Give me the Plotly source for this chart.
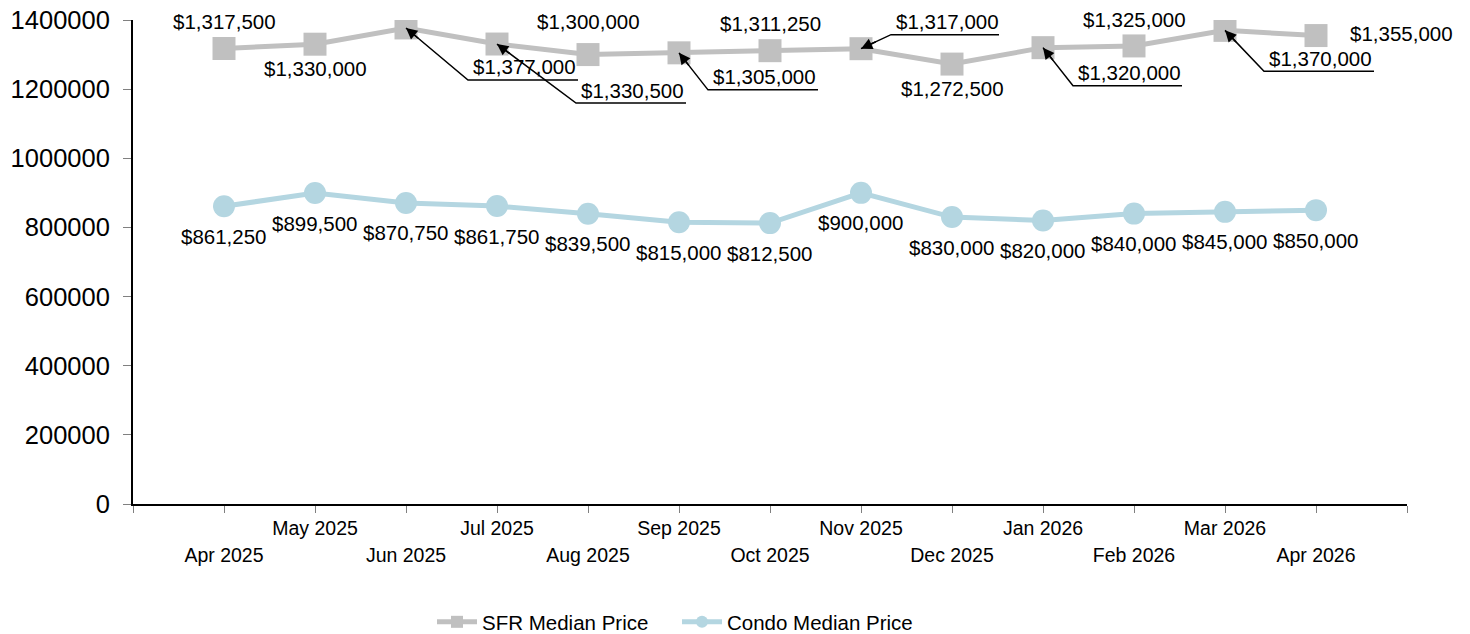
import math
import plotly.graph_objects as go

# ---------------- data ----------------
months = ["Apr 2025", "May 2025", "Jun 2025", "Jul 2025", "Aug 2025", "Sep 2025",
          "Oct 2025", "Nov 2025", "Dec 2025", "Jan 2026", "Feb 2026", "Mar 2026", "Apr 2026"]
sfr_price = [1317500, 1330000, 1377000, 1330500, 1300000, 1305000, 1311250,
             1317000, 1272500, 1320000, 1325000, 1370000, 1355000]
condo_price = [861250, 899500, 870750, 861750, 839500, 815000, 812500,
               900000, 830000, 820000, 840000, 845000, 850000]
y_ticks = [0, 200000, 400000, 600000, 800000, 1000000, 1200000, 1400000]

# ---------------- layout constants ----------------
# the page body has an 8px margin, so the figure is offset by 8px
W, H = 1462, 626
ML, MR, MT, MB = 125, 63, 12, 130
X_RANGE = [-1, len(months)]
Y_RANGE = [0, 1400000]
PLOT_W = W - ML - MR
PLOT_H = H - MT - MB
PX_PER_X = PLOT_W / (X_RANGE[1] - X_RANGE[0])
PX_PER_Y = PLOT_H / (Y_RANGE[1] - Y_RANGE[0])

FONT = "Liberation Sans, Arial, sans-serif"
SFR_COLOR = "#c0c0c0"
CONDO_COLOR = "#b4d6e1"

x = list(range(len(months)))

fig = go.Figure()
fig.add_trace(go.Scatter(
    x=x, y=sfr_price, mode="lines+markers", name="SFR Median Price",
    line=dict(color=SFR_COLOR, width=5),
    marker=dict(symbol="square", size=23, color=SFR_COLOR),
    hoverinfo="skip"))
fig.add_trace(go.Scatter(
    x=x, y=condo_price, mode="lines+markers", name="Condo Median Price",
    line=dict(color=CONDO_COLOR, width=5),
    marker=dict(symbol="circle", size=22, color=CONDO_COLOR),
    hoverinfo="skip"))
# invisible trace so the second (staggered-label) x axis is drawn
fig.add_trace(go.Scatter(x=[None], y=[None], xaxis="x2", yaxis="y",
                         showlegend=False, hoverinfo="skip", mode="markers"))


def money(v):
    return "${:,}".format(v)


annotations = []
shapes = []
LABEL_FONT = dict(family=FONT, size=20.5, color="black")

# plain SFR labels: index -> (xshift, yshift) in px
sfr_plain = {0: (0, 27), 1: (0, -24), 4: (0, 33), 6: (0, 27),
             8: (0, -24), 10: (0, 26), 12: (85, 2)}
# SFR labels with leader + underline: index -> (dx, dy screen px to underline start, underline length)
sfr_arrow = {2: (62, 52, 110), 3: (79, 59, 110), 5: (29, 37, 110),
             7: (30, -14, 108), 9: (30, 38, 109), 11: (39, 41, 110)}

for i, v in enumerate(sfr_price):
    if i in sfr_plain:
        xs, ys = sfr_plain[i]
        annotations.append(dict(x=x[i], y=v, text=money(v), showarrow=False,
                                xshift=xs, yshift=ys, font=LABEL_FONT,
                                xanchor="center", yanchor="middle"))
    else:
        dx, dy, ln = sfr_arrow[i]
        x0 = x[i] + dx / PX_PER_X
        y0 = v - dy / PX_PER_Y
        x1 = x[i] + (dx + ln) / PX_PER_X
        shapes.append(dict(type="path", xref="x", yref="y",
                           path=f"M {x[i]},{v} L {x0},{y0} L {x1},{y0}",
                           line=dict(color="black", width=1.5), layer="above"))
        s = 18 / math.hypot(dx, dy)
        annotations.append(dict(x=x[i], y=v, text="", showarrow=True,
                                ax=dx * s, ay=dy * s, axref="pixel", ayref="pixel",
                                arrowhead=2, arrowsize=1.5, arrowwidth=1.5,
                                arrowcolor="black", standoff=0))
        annotations.append(dict(x=x[i], y=v, text=money(v), showarrow=False,
                                xshift=dx + 3, yshift=-(dy - 13), font=LABEL_FONT,
                                xanchor="left", yanchor="middle"))

for i, v in enumerate(condo_price):
    annotations.append(dict(x=x[i], y=v, text=money(v), showarrow=False,
                            xshift=0, yshift=-30, font=LABEL_FONT,
                            xanchor="center", yanchor="middle"))

all_ticks = list(range(X_RANGE[0], X_RANGE[1] + 1))
upper_text = [months[t] if (0 <= t < len(months) and t % 2 == 1) else "" for t in all_ticks]
lower_vals = [t for t in x if t % 2 == 0]
lower_text = [months[t] for t in lower_vals]

fig.update_layout(
    width=W, height=H, autosize=False,
    margin=dict(l=ML, r=MR, t=MT, b=MB, pad=0, autoexpand=False),
    paper_bgcolor="white", plot_bgcolor="white",
    font=dict(family=FONT, color="black"),
    xaxis=dict(range=X_RANGE, tickmode="array", tickvals=all_ticks, ticktext=upper_text,
               showgrid=False, zeroline=False, showline=True, linecolor="black", linewidth=2,
               ticks="outside", ticklen=7, tickcolor="#808080", tickwidth=1,
               tickfont=dict(family=FONT, size=19.5, color="black"),
               ticklabelstandoff=-1, ticklabeloverflow="allow", automargin=False),
    xaxis2=dict(range=X_RANGE, overlaying="x", anchor="y", side="bottom", matches="x",
                tickmode="array", tickvals=lower_vals, ticktext=lower_text,
                showgrid=False, zeroline=False, showline=False,
                ticks="outside", ticklen=7, tickcolor="rgba(0,0,0,0)",
                tickfont=dict(family=FONT, size=19.5, color="black"),
                ticklabelstandoff=27, ticklabeloverflow="allow", automargin=False),
    yaxis=dict(range=Y_RANGE, tickmode="array", tickvals=y_ticks,
               ticktext=[str(t) for t in y_ticks],
               showgrid=False, zeroline=False, showline=True, linecolor="black", linewidth=2,
               ticks="outside", ticklen=8, tickcolor="#808080", tickwidth=1,
               tickfont=dict(family=FONT, size=25.5, color="black"),
               ticklabelstandoff=8, ticklabeloverflow="allow", automargin=False),
    legend=dict(orientation="h", xref="container", yref="container",
                x=669 / W, xanchor="center",
                y=12 / H, yanchor="middle",
                font=dict(family=FONT, size=20.5, color="black"),
                itemsizing="constant", itemwidth=40, entrywidth=190, entrywidthmode="pixels",
                bgcolor="rgba(0,0,0,0)"),
    annotations=annotations,
    shapes=shapes,
    showlegend=True,
)

fig.write_html("out.html")
